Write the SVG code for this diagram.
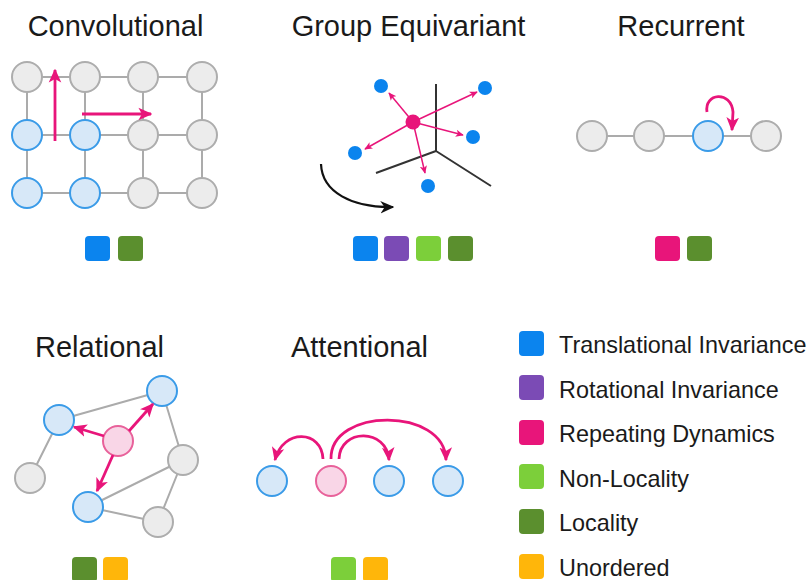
<svg xmlns="http://www.w3.org/2000/svg" width="809" height="580" viewBox="0 0 809 580">
  <style>
    .title { font-family: "Liberation Sans", Arial, sans-serif; font-size: 29px; fill: #1a1a1a; text-anchor: middle; }
    .legend-text { font-family: "Liberation Sans", Arial, sans-serif; font-size: 23.4px; fill: #1a1a1a; }
    .edge { stroke: #ababab; stroke-width: 2; fill: none; }
    .gray { fill: #ececec; stroke: #adadad; stroke-width: 2; }
    .blue { fill: #d7e8f8; stroke: #3a9be8; stroke-width: 2; }
    .pinknode { fill: #f9d6e7; stroke: #e8619a; stroke-width: 2; }
    .dot { fill: #0b84ee; }
    .hub { fill: #e8157a; }
    .axis { stroke: #333333; stroke-width: 2; fill: none; }
    .arr { stroke: #e8157a; stroke-width: 2.8; fill: none; marker-end: url(#headPink); }
    .arr-thin { stroke: #e8157a; stroke-width: 1.5; fill: none; marker-end: url(#headPinkSmall); }
    .arr-black { stroke: #111111; stroke-width: 2.2; fill: none; marker-end: url(#headBlack); }
    .c-trans { fill: #0b84ee; }
    .c-rot { fill: #7b4bb5; }
    .c-rep { fill: #e8157a; }
    .c-nonloc { fill: #7ccf3a; }
    .c-loc { fill: #5b8f2e; }
    .c-unord { fill: #ffb60a; }
  </style>
  <defs>
    <marker id="headPink" viewBox="0 0 10 10" refX="9" refY="5" markerUnits="userSpaceOnUse" markerWidth="14" markerHeight="14" orient="auto">
      <path d="M0,0.5 L10,5 L0,9.5 L2.5,5 z" fill="#e8157a"/>
    </marker>
    <marker id="headPinkSmall" viewBox="0 0 10 10" refX="9" refY="5" markerUnits="userSpaceOnUse" markerWidth="8" markerHeight="8" orient="auto">
      <path d="M0,0.5 L10,5 L0,9.5 L2.5,5 z" fill="#e8157a"/>
    </marker>
    <marker id="headBlack" viewBox="0 0 10 10" refX="9" refY="5" markerUnits="userSpaceOnUse" markerWidth="14" markerHeight="14" orient="auto">
      <path d="M0,0.5 L10,5 L0,9.5 L3,5 z" fill="#111111"/>
    </marker>
  </defs>

  <rect width="809" height="580" fill="#ffffff"/>

  <!-- titles -->
  <text class="title" x="115.5" y="36">Convolutional</text>
  <text class="title" x="408.5" y="36">Group Equivariant</text>
  <text class="title" x="681" y="36">Recurrent</text>
  <text class="title" x="99.5" y="357">Relational</text>
  <text class="title" x="359.5" y="357">Attentional</text>

  <!-- connectors -->
  <g id="connectors">
    <!-- convolutional grid -->
    <path class="edge" d="M27,77 H202 M27,135 H202 M27,193 H202 M27,77 V193 M85,77 V193 M143,77 V193 M202,77 V193"/>
    <!-- recurrent chain -->
    <path class="edge" d="M592,136 H766"/>
    <!-- relational graph -->
    <path class="edge" d="M59,420 L162,391 M59,420 L30,478 M162,391 L183,460 M183,460 L88,507 M183,460 L158,522 M88,507 L158,522"/>
    <!-- group equivariant axes -->
    <path class="axis" d="M436,84 V151 M436,151 L376,173 M436,151 L491,186"/>
  </g>

  <!-- Convolutional nodes -->
  <g id="conv-nodes">
    <circle class="gray" cx="27" cy="77" r="15"/>
    <circle class="gray" cx="85" cy="77" r="15"/>
    <circle class="gray" cx="143" cy="77" r="15"/>
    <circle class="gray" cx="202" cy="77" r="15"/>
    <circle class="blue" cx="27" cy="135" r="15"/>
    <circle class="blue" cx="85" cy="135" r="15"/>
    <circle class="gray" cx="143" cy="135" r="15"/>
    <circle class="gray" cx="202" cy="135" r="15"/>
    <circle class="blue" cx="27" cy="193" r="15"/>
    <circle class="blue" cx="85" cy="193" r="15"/>
    <circle class="gray" cx="143" cy="193" r="15"/>
    <circle class="gray" cx="202" cy="193" r="15"/>
  </g>
  <g id="conv-arrows">
    <path class="arr" d="M55,141 V70"/>
    <path class="arr" d="M82,114 H151"/>
  </g>

  <!-- Group equivariant -->
  <g id="group-eq">
    <path class="arr-black" d="M321,164 C322,192 352,208 393,207"/>
    <path class="arr-thin" d="M413,122 L389,93"/>
    <path class="arr-thin" d="M413,122 L477,92"/>
    <path class="arr-thin" d="M413,122 L463,135"/>
    <path class="arr-thin" d="M413,122 L365,149"/>
    <path class="arr-thin" d="M413,122 L425,173"/>
    <circle class="dot" cx="381" cy="86" r="7"/>
    <circle class="dot" cx="485" cy="88" r="7"/>
    <circle class="dot" cx="473" cy="137" r="7"/>
    <circle class="dot" cx="355" cy="153" r="7"/>
    <circle class="dot" cx="428" cy="186" r="7"/>
    <circle class="hub" cx="413" cy="122" r="7.5"/>
  </g>

  <!-- Recurrent -->
  <g id="recurrent">
    <circle class="gray" cx="592" cy="136" r="15"/>
    <circle class="gray" cx="649" cy="136" r="15"/>
    <circle class="blue" cx="708" cy="136" r="15"/>
    <circle class="gray" cx="766" cy="136" r="15"/>
    <path class="arr" d="M707,112 C704,93 731,90 733,112 L732,130"/>
  </g>

  <!-- Relational -->
  <g id="relational">
    <circle class="blue" cx="59" cy="420" r="15"/>
    <circle class="blue" cx="162" cy="391" r="15"/>
    <circle class="gray" cx="183" cy="460" r="15"/>
    <circle class="gray" cx="30" cy="478" r="15"/>
    <circle class="blue" cx="88" cy="507" r="15"/>
    <circle class="gray" cx="158" cy="522" r="15"/>
    <circle class="pinknode" cx="118" cy="441" r="15"/>
    <path class="arr" d="M104,436 L74,427"/>
    <path class="arr" d="M129,431 L153,404"/>
    <path class="arr" d="M113,455 L97,491"/>
  </g>

  <!-- Attentional -->
  <g id="attentional">
    <circle class="blue" cx="272" cy="481" r="15"/>
    <circle class="pinknode" cx="331" cy="481" r="15"/>
    <circle class="blue" cx="389" cy="481" r="15"/>
    <circle class="blue" cx="448" cy="481" r="15"/>
    <path class="arr" d="M323,459 C322,430 283,428 275,460"/>
    <path class="arr" d="M339,459 C340,428 387,428 389,460"/>
    <path class="arr" d="M331,459 C330,407 445,407 446,460"/>
  </g>

  <!-- property swatches under each panel -->
  <g id="swatches">
    <rect class="c-trans" x="85" y="236" width="25" height="25" rx="4"/>
    <rect class="c-loc" x="118" y="236" width="25" height="25" rx="4"/>

    <rect class="c-trans" x="353" y="236" width="25" height="25" rx="4"/>
    <rect class="c-rot" x="384" y="236" width="25" height="25" rx="4"/>
    <rect class="c-nonloc" x="416" y="236" width="25" height="25" rx="4"/>
    <rect class="c-loc" x="448" y="236" width="25" height="25" rx="4"/>

    <rect class="c-rep" x="655" y="236" width="25" height="25" rx="4"/>
    <rect class="c-loc" x="687" y="236" width="25" height="25" rx="4"/>

    <rect class="c-loc" x="72" y="557" width="25" height="25" rx="4"/>
    <rect class="c-unord" x="103" y="557" width="25" height="25" rx="4"/>

    <rect class="c-nonloc" x="331" y="557" width="25" height="25" rx="4"/>
    <rect class="c-unord" x="363" y="557" width="25" height="25" rx="4"/>
  </g>

  <!-- legend -->
  <g id="legend">
    <rect class="c-trans" x="519" y="331" width="25" height="25" rx="4"/>
    <text class="legend-text" x="559" y="353">Translational Invariance</text>
    <rect class="c-rot" x="519" y="375" width="25" height="25" rx="4"/>
    <text class="legend-text" x="559" y="397.6">Rotational Invariance</text>
    <rect class="c-rep" x="519" y="420" width="25" height="25" rx="4"/>
    <text class="legend-text" x="559" y="442.2">Repeating Dynamics</text>
    <rect class="c-nonloc" x="519" y="464" width="25" height="25" rx="4"/>
    <text class="legend-text" x="559" y="486.8">Non-Locality</text>
    <rect class="c-loc" x="519" y="509" width="25" height="25" rx="4"/>
    <text class="legend-text" x="559" y="531.4">Locality</text>
    <rect class="c-unord" x="519" y="554" width="25" height="25" rx="4"/>
    <text class="legend-text" x="559" y="576">Unordered</text>
  </g>
</svg>
